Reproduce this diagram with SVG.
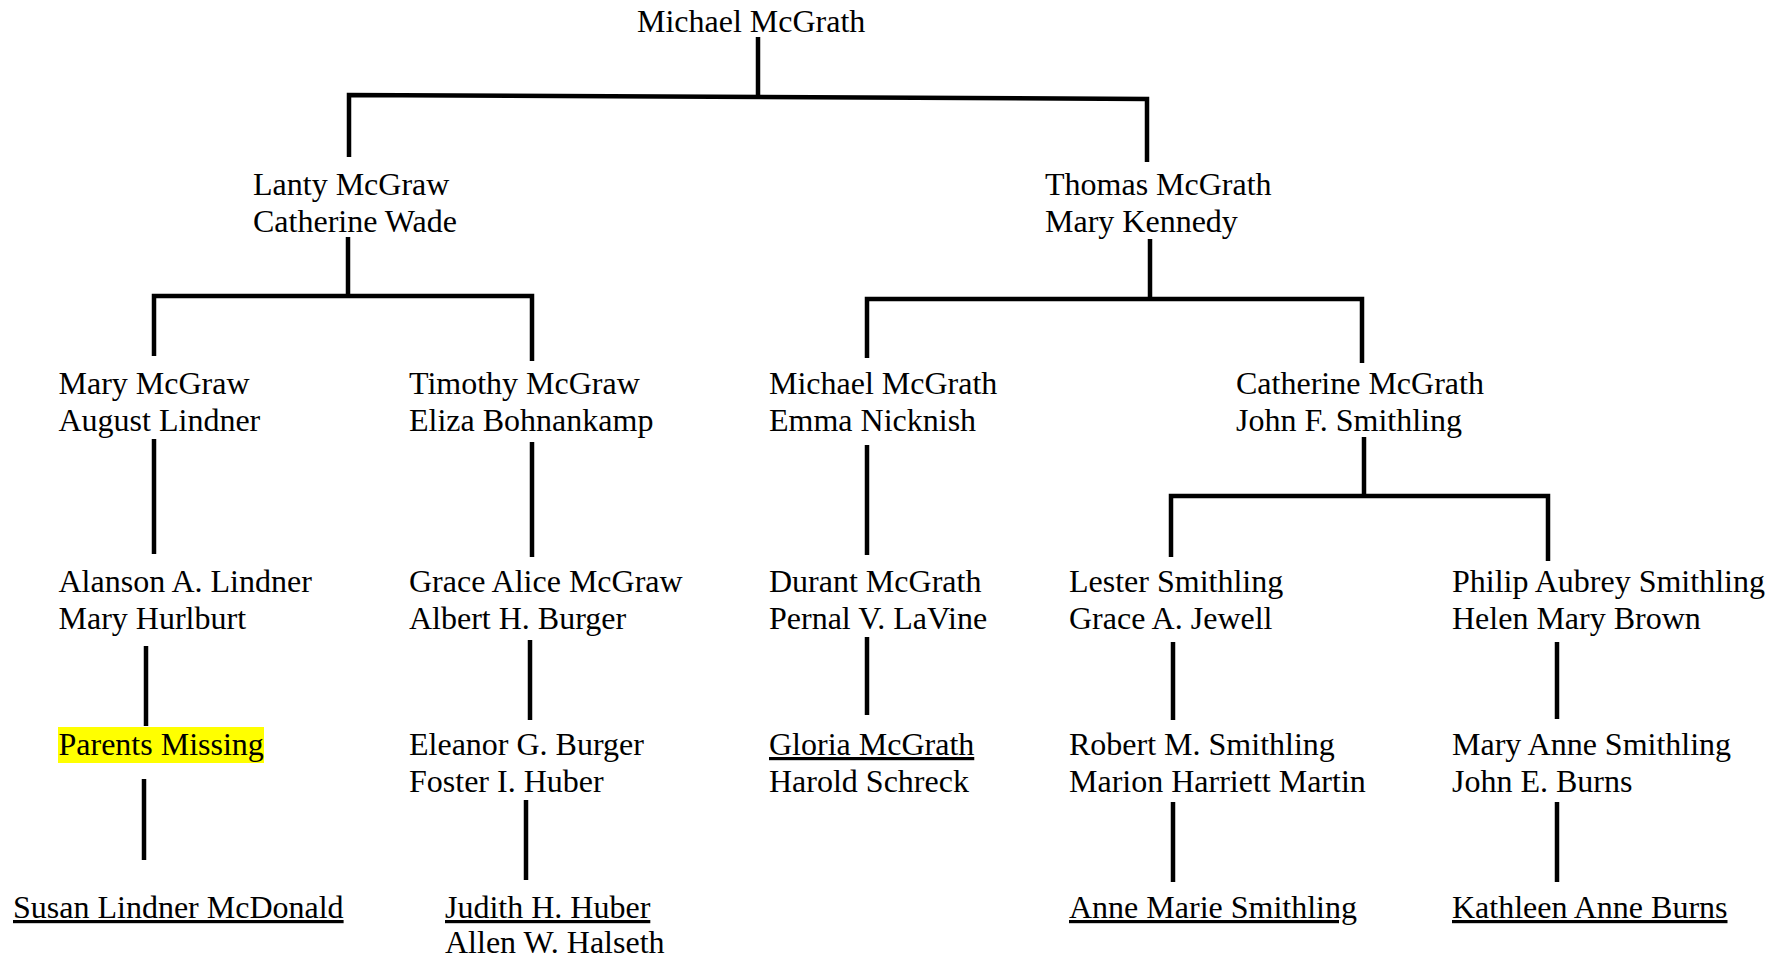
<svg xmlns="http://www.w3.org/2000/svg" width="1783" height="960" viewBox="0 0 1783 960">
<style>
text{font-family:"Liberation Serif","Times New Roman",serif;font-size:32px;fill:#000}
.u{text-decoration:underline}
.c{fill:none;stroke:#000;stroke-width:4.5;stroke-linejoin:miter;stroke-linecap:butt}
</style>
<rect width="1783" height="960" fill="#fff"/>
<g id="connectors">
<path class="c" d="M758,37V97"/>
<path class="c" d="M349,157V95L1147,99V162"/>
<path class="c" d="M348,237V296"/>
<path class="c" d="M154,356V296H532V361"/>
<path class="c" d="M1150,239V299"/>
<path class="c" d="M867,358V299H1362V363"/>
<path class="c" d="M154,439V554"/>
<path class="c" d="M532,442V557"/>
<path class="c" d="M867,445V555"/>
<path class="c" d="M1364,437V496"/>
<path class="c" d="M1171,557V496H1548V561"/>
<path class="c" d="M146,646V726"/>
<path class="c" d="M530,640V720"/>
<path class="c" d="M867,637V715"/>
<path class="c" d="M1173,642V720"/>
<path class="c" d="M1557,642V719"/>
<path class="c" d="M144,779V860"/>
<path class="c" d="M526,800V880"/>
<path class="c" d="M1173,802V882"/>
<path class="c" d="M1557,802V882"/>
</g>
<g id="n-michael"><text x="637" y="32">Michael McGrath</text></g>
<g id="n-lanty"><text x="253" y="195">Lanty McGraw</text><text x="253" y="232">Catherine Wade</text></g>
<g id="n-thomas"><text x="1045" y="195">Thomas McGrath</text><text x="1045" y="232">Mary Kennedy</text></g>
<g id="n-mary"><text x="58.5" y="394">Mary McGraw</text><text x="58.5" y="431">August Lindner</text></g>
<g id="n-timothy"><text x="409" y="394">Timothy McGraw</text><text x="409" y="431">Eliza Bohnankamp</text></g>
<g id="n-michael2"><text x="769" y="394">Michael McGrath</text><text x="769" y="431">Emma Nicknish</text></g>
<g id="n-catherine"><text x="1236" y="394">Catherine McGrath</text><text x="1236" y="431">John F. Smithling</text></g>
<g id="n-alanson"><text x="58.5" y="592">Alanson A. Lindner</text><text x="58.5" y="629">Mary Hurlburt</text></g>
<g id="n-grace"><text x="409" y="592">Grace Alice McGraw</text><text x="409" y="629">Albert H. Burger</text></g>
<g id="n-durant"><text x="769" y="592">Durant McGrath</text><text x="769" y="629">Pernal V. LaVine</text></g>
<g id="n-lester"><text x="1069" y="592">Lester Smithling</text><text x="1069" y="629">Grace A. Jewell</text></g>
<g id="n-philip"><text x="1452" y="592">Philip Aubrey Smithling</text><text x="1452" y="629">Helen Mary Brown</text></g>
<g id="n-parents"><rect x="58" y="727" width="206" height="36" fill="#ffff00"/><text x="58.5" y="755">Parents Missing</text></g>
<g id="n-eleanor"><text x="409" y="755">Eleanor G. Burger</text><text x="409" y="792">Foster I. Huber</text></g>
<g id="n-gloria"><text class="u" x="769" y="755">Gloria McGrath</text><text x="769" y="792">Harold Schreck</text></g>
<g id="n-robert"><text x="1069" y="755">Robert M. Smithling</text><text x="1069" y="792">Marion Harriett Martin</text></g>
<g id="n-maryanne"><text x="1452" y="755">Mary Anne Smithling</text><text x="1452" y="792">John E. Burns</text></g>
<g id="n-susan"><text class="u" x="13" y="918">Susan Lindner McDonald</text></g>
<g id="n-judith"><text class="u" x="445" y="918">Judith H. Huber</text><text x="445" y="953">Allen W. Halseth</text></g>
<g id="n-annemarie"><text class="u" x="1069" y="918">Anne Marie Smithling</text></g>
<g id="n-kathleen"><text class="u" x="1452" y="918">Kathleen Anne Burns</text></g>
</svg>
